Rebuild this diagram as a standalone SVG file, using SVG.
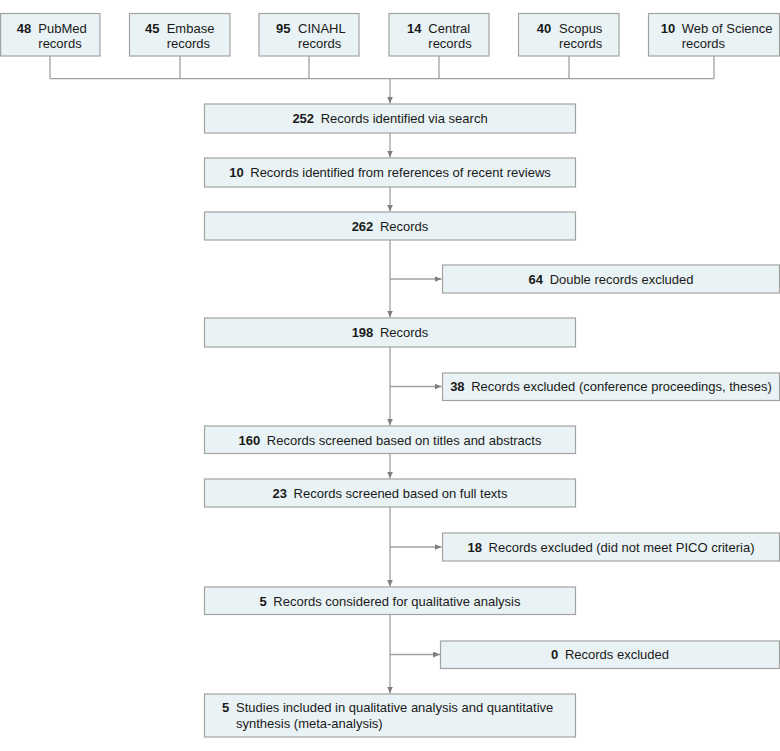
<svg xmlns="http://www.w3.org/2000/svg" width="780" height="751" viewBox="0 0 780 751">
<style>
.box{fill:#e9f2f4;stroke:#a3a3a3;stroke-width:1.2}
.t{font-family:"Liberation Sans",Arial,sans-serif;font-size:13px;fill:#1a1a1a}
.b{font-weight:bold}
.ln{fill:none;stroke:#a0a0a0;stroke-width:1.3}
</style>
<defs>
<marker id="ah" markerUnits="userSpaceOnUse" markerWidth="8" markerHeight="7" refX="7" refY="3" orient="auto">
<path d="M0,0 L7,3 L0,6 z" fill="#808080"/>
</marker>
</defs>
<rect width="780" height="751" fill="#ffffff"/>
<g id="connectors">
<path class="ln" d="M50,56 V78.7 M180,56 V78.7 M309,56 V78.7 M439,56 V78.7 M569,56 V78.7 M714,56 V78.7 M50,78.7 H714"/>
<path class="ln" d="M390,78.7 V103.5" marker-end="url(#ah)"/>
<path class="ln" d="M390,133 V157.5" marker-end="url(#ah)"/>
<path class="ln" d="M390,187 V211.5" marker-end="url(#ah)"/>
<path class="ln" d="M390,240 V317.5" marker-end="url(#ah)"/>
<path class="ln" d="M390,279 H441.5" marker-end="url(#ah)"/>
<path class="ln" d="M390,347 V425.5" marker-end="url(#ah)"/>
<path class="ln" d="M390,386.5 H441.5" marker-end="url(#ah)"/>
<path class="ln" d="M390,453 V478.5" marker-end="url(#ah)"/>
<path class="ln" d="M390,507 V586.5" marker-end="url(#ah)"/>
<path class="ln" d="M390,547 H441.5" marker-end="url(#ah)"/>
<path class="ln" d="M390,614 V693.5" marker-end="url(#ah)"/>
<path class="ln" d="M390,654.5 H440" marker-end="url(#ah)"/>
</g>
<g id="pubmed">
<rect class="box" x="0.6" y="13.5" width="99.4" height="42.5"/>
<text class="t" y="33"><tspan class="b" x="16.7">48</tspan><tspan x="38.3">PubMed</tspan></text>
<text class="t" x="38.3" y="47.7">records</text>
</g>
<g id="embase">
<rect class="box" x="129.5" y="13.5" width="100.5" height="42.5"/>
<text class="t" y="33"><tspan class="b" x="145">45</tspan><tspan x="166.7">Embase</tspan></text>
<text class="t" x="166.7" y="47.7">records</text>
</g>
<g id="cinahl">
<rect class="box" x="259" y="13.5" width="100" height="42.5"/>
<text class="t" y="33"><tspan class="b" x="276">95</tspan><tspan x="298">CINAHL</tspan></text>
<text class="t" x="298" y="47.7">records</text>
</g>
<g id="central">
<rect class="box" x="389" y="13.5" width="100" height="42.5"/>
<text class="t" y="33"><tspan class="b" x="407">14</tspan><tspan x="428.3">Central</tspan></text>
<text class="t" x="428.3" y="47.7">records</text>
</g>
<g id="scopus">
<rect class="box" x="518.5" y="13.5" width="100.5" height="42.5"/>
<text class="t" y="33"><tspan class="b" x="536.7">40</tspan><tspan x="559">Scopus</tspan></text>
<text class="t" x="559" y="47.7">records</text>
</g>
<g id="wos">
<rect class="box" x="648.5" y="13.5" width="131" height="42.5"/>
<text class="t" y="33"><tspan class="b" x="660.7">10</tspan><tspan x="681.7">Web of Science</tspan></text>
<text class="t" x="681.7" y="47.7">records</text>
</g>
<g id="n252">
<rect class="box" x="204.5" y="104" width="371" height="29"/>
<text class="t" x="390" y="123" text-anchor="middle"><tspan class="b">252</tspan><tspan dx="3"> Records identified via search</tspan></text>
</g>
<g id="n10">
<rect class="box" x="204.5" y="158" width="371" height="29"/>
<text class="t" x="390" y="177" text-anchor="middle"><tspan class="b">10</tspan><tspan dx="3"> Records identified from references of recent reviews</tspan></text>
</g>
<g id="n262">
<rect class="box" x="204.5" y="212" width="371" height="28"/>
<text class="t" x="390" y="230.5" text-anchor="middle"><tspan class="b">262</tspan><tspan dx="3"> Records</tspan></text>
</g>
<g id="x64">
<rect class="box" x="442.5" y="265" width="337" height="28"/>
<text class="t" x="611" y="283.5" text-anchor="middle"><tspan class="b">64</tspan><tspan dx="3"> Double records excluded</tspan></text>
</g>
<g id="n198">
<rect class="box" x="204.5" y="318" width="371" height="29"/>
<text class="t" x="390" y="337" text-anchor="middle"><tspan class="b">198</tspan><tspan dx="3"> Records</tspan></text>
</g>
<g id="x38">
<rect class="box" x="442.5" y="373" width="337" height="27.5"/>
<text class="t" x="611" y="391" text-anchor="middle"><tspan class="b">38</tspan><tspan dx="3"> Records excluded (conference proceedings, theses)</tspan></text>
</g>
<g id="n160">
<rect class="box" x="204.5" y="426" width="371" height="27.5"/>
<text class="t" x="390" y="444.5" text-anchor="middle"><tspan class="b">160</tspan><tspan dx="3"> Records screened based on titles and abstracts</tspan></text>
</g>
<g id="n23">
<rect class="box" x="204.5" y="479" width="371" height="28"/>
<text class="t" x="390" y="497.5" text-anchor="middle"><tspan class="b">23</tspan><tspan dx="3"> Records screened based on full texts</tspan></text>
</g>
<g id="x18">
<rect class="box" x="442.5" y="533" width="337" height="28"/>
<text class="t" x="611" y="551.5" text-anchor="middle"><tspan class="b">18</tspan><tspan dx="3"> Records excluded (did not meet PICO criteria)</tspan></text>
</g>
<g id="n5">
<rect class="box" x="204.5" y="587" width="371" height="27.5"/>
<text class="t" x="390" y="605.5" text-anchor="middle"><tspan class="b">5</tspan><tspan dx="3"> Records considered for qualitative analysis</tspan></text>
</g>
<g id="x0">
<rect class="box" x="440.5" y="641" width="339" height="27.5"/>
<text class="t" x="610" y="659" text-anchor="middle"><tspan class="b">0</tspan><tspan dx="3"> Records excluded</tspan></text>
</g>
<g id="s5">
<rect class="box" x="204.5" y="694" width="371" height="43"/>
<text class="t" y="712"><tspan class="b" x="222">5</tspan><tspan x="236">Studies included in qualitative analysis and quantitative</tspan></text>
<text class="t" x="236" y="727.5">synthesis (meta-analysis)</text>
</g>
</svg>
